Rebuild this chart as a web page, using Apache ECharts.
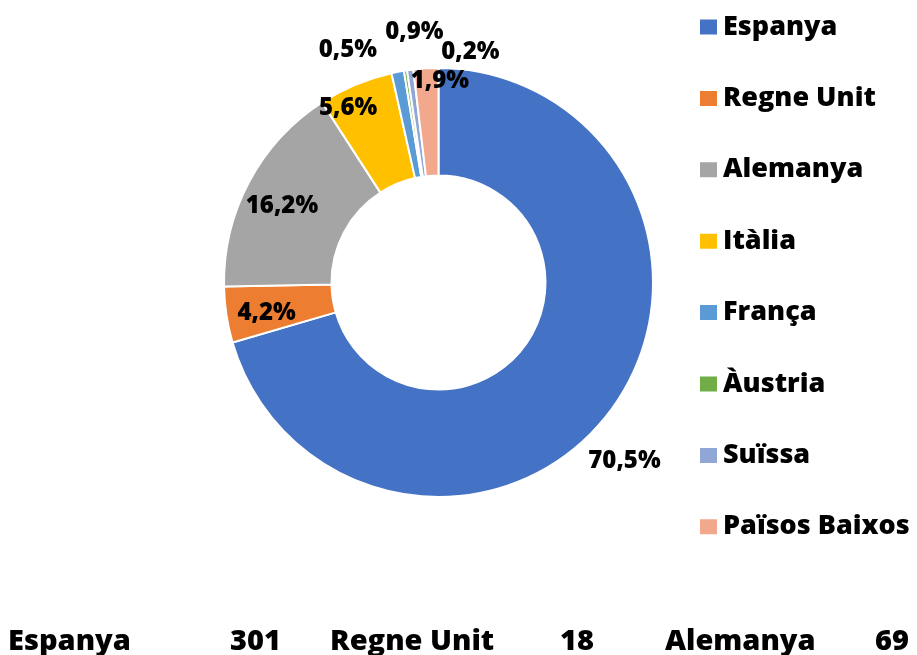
<!DOCTYPE html>
<html>
<head>
<meta charset="utf-8">
<script src="https://cdn.jsdelivr.net/npm/echarts@6/dist/echarts.min.js"></script>
<style>
html,body{margin:0;padding:0;background:#fff;}
#chart{width:917px;height:655px;}
</style>
</head>
<body>
<div id="chart"></div>
<script>
// Data
const categories = ['Espanya', 'Regne Unit', 'Alemanya', 'Itàlia', 'França', 'Àustria', 'Suïssa', 'Països Baixos'];
const values = [301, 18, 69, 24, 4, 1, 2, 8];
const colors = ['#4472C4', '#ED7D31', '#A5A5A5', '#FFC000', '#5B9BD5', '#70AD47', '#8FA6D7', '#F2A88C'];
// label offsets (px) from the default in-ring position
const labelOffsets = [[55, 80], [-10, 6], [-12, 1], [-27, -23], [7, -90], [57, -69], [-69, -70], [11, -38]];
// bottom table (first three categories), x positions of each text
const tableX = [[8, 230], [330, 560], [665, 875]];

const FONT = '"Open Sans", "Noto Sans", sans-serif';
const total = values.reduce((a, b) => a + b, 0);

const chart = echarts.init(document.getElementById('chart'));

const graphics = [];
for (let i = 0; i < 3; i++) {
  graphics.push({
    type: 'text', left: tableX[i][0], top: 627,
    style: { text: categories[i], font: '800 29px ' + FONT, fill: '#000' }
  });
  graphics.push({
    type: 'text', left: tableX[i][1], top: 627,
    style: { text: String(values[i]), font: '800 29px ' + FONT, fill: '#000' }
  });
}

chart.setOption({
  animation: false,
  color: colors,
  legend: {
    orient: 'vertical',
    left: 698,
    top: 12,
    padding: 0,
    itemWidth: 19,
    itemHeight: 17,
    itemGap: 41.4,
    icon: 'rect',
    data: categories,
    textStyle: { fontFamily: FONT, fontWeight: 800, fontSize: 27, color: '#000', lineHeight: 30, padding: [0, 0, 0, 0] }
  },
  graphic: graphics,
  series: [{
    type: 'pie',
    center: [438.5, 282.5],
    radius: [107, 214.5],
    startAngle: 90,
    clockwise: true,
    avoidLabelOverlap: false,
    itemStyle: { borderColor: '#fff', borderWidth: 2 },
    label: {
      show: true,
      position: 'inside',
      fontFamily: FONT,
      fontWeight: 800,
      fontSize: 24,
      color: '#000',
      formatter: p => (p.value / total * 100).toFixed(1).replace('.', ',') + '%'
    },
    labelLine: { show: false },
    labelLayout: p => ({ dx: labelOffsets[p.dataIndex][0], dy: labelOffsets[p.dataIndex][1] }),
    emphasis: { disabled: true },
    data: categories.map((c, i) => ({ name: c, value: values[i] }))
  }]
});
</script>
</body>
</html>
